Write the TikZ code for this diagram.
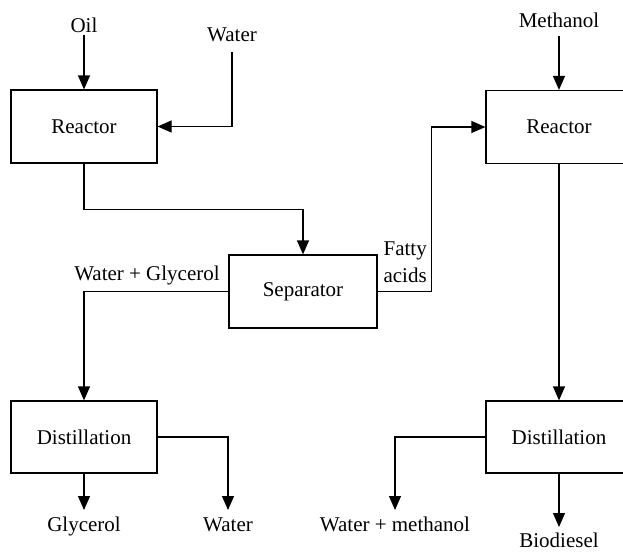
\documentclass[tikz,border=0pt]{standalone}
\usepackage{fontspec}
\setmainfont{Liberation Serif}
\usetikzlibrary{arrows.meta}

\begin{document}
\begin{tikzpicture}[x=0.5pt,y=-0.5pt,
    font=\fontsize{10.5}{13.5}\selectfont, line width=0.6pt,
    >={Triangle[length=7pt,width=6pt]},
    unit/.style={rectangle,draw=black,line width=0.6pt,minimum width=73pt,
                 minimum height=36.5pt,inner sep=0pt},
    feed/.style={inner sep=1pt,text height=7.5pt,text depth=0pt,anchor=south},
    prod/.style={inner sep=1pt,text height=7.5pt,text depth=0pt,anchor=north}]
  \clip (0,0) rectangle (623,552);

  % ---------------- left: hydrolysis, separation, glycerol recovery
  \node[unit] (reac1) at (84,126.5) {Reactor};
  \node[unit,minimum width=74pt] (sep) at (303,291.5) {Separator};
  \node[unit,minimum height=36pt] (dist1) at (84,437) {Distillation};

  \node[feed] (oil) at (84,35) {Oil};
  \node[feed] (water) at (232,44) {Water};
  \draw[->] (oil) -- (reac1);
  \draw[->,shorten <=4pt] (water.south) |- (reac1.east);
  \draw[->] (reac1.south) -- ++(0,46) -| (sep.north);

  \node (wglab) at (147,275) {Water + Glycerol};
  \draw[->] (sep.west) -| (dist1.north);

  \node[prod] (glyc) at (84,514) {Glycerol};
  \node[prod] (wout) at (228,514) {Water};
  \draw[->,shorten >=2pt] (dist1.south) -- (glyc.north);
  \draw[->,shorten >=2pt] (dist1.east) -| (wout.north);

  % ---------------- right: transesterification and biodiesel
  \node[unit] (reac2) at (559,127) {Reactor};
  \node[unit,minimum height=36pt] (dist2) at (559,437) {Distillation};

  \node[feed] (meth) at (559,30) {Methanol};
  \draw[->,shorten <=3pt] (meth.south) -- (reac2.north);

  \node[inner sep=1pt,anchor=south west,align=left] (falab) at (381,285) {Fatty\\acids};
  \draw[->] (sep.east) -- ++(54,0) |- (reac2.west);
  \draw[->] (reac2.south) -- (dist2.north);

  \node[prod] (wmeth) at (395,514) {Water + methanol};
  \node[prod] (biod) at (559,530) {Biodiesel};
  \draw[->,shorten >=2pt] (dist2.west) -| (wmeth.north);
  \draw[->,shorten >=1.5pt] (dist2.south) -- (biod.north);
\end{tikzpicture}
\end{document}
